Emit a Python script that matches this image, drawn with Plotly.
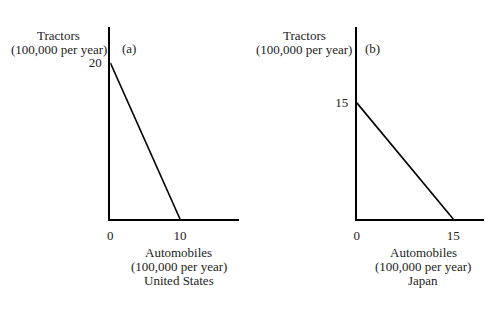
import plotly.graph_objects as go

W, H = 493, 312
# Panel (a) United States
us_autos = [0, 10]
us_tractors = [20, 0]
# Panel (b) Japan
jp_autos = [0, 15]
jp_tractors = [15, 0]

us_xticks = [0, 10]
us_yticks = [20]
jp_xticks = [0, 15]
jp_yticks = [15]

FONT = "Liberation Serif, Times New Roman, serif"
TXT = "#222"
FS = 13

fig = go.Figure()
fig.add_trace(go.Scatter(x=us_autos, y=us_tractors, mode="lines",
                         line=dict(color="black", width=1.6), xaxis="x", yaxis="y",
                         showlegend=False, hoverinfo="skip"))
fig.add_trace(go.Scatter(x=jp_autos, y=jp_tractors, mode="lines",
                         line=dict(color="black", width=1.6), xaxis="x2", yaxis="y2",
                         showlegend=False, hoverinfo="skip"))

def px(x):
    return x / W

def py(y):
    return 1 - y / H

ydom = [py(219), py(27)]
axis_common = dict(showline=True, linecolor="black", linewidth=2, showgrid=False,
                   zeroline=False, ticks="", tickfont=dict(family=FONT, size=FS, color=TXT),
                   fixedrange=True)

fig.update_layout(
    width=W, height=H, margin=dict(l=0, r=0, t=0, b=0),
    paper_bgcolor="white", plot_bgcolor="white",
    xaxis=dict(domain=[px(108), px(237)], range=[0, 18.4], anchor="y",
               tickvals=us_xticks, ticktext=[str(v) for v in us_xticks],
               ticklabelstandoff=3, **axis_common),
    yaxis=dict(domain=ydom, range=[0, 24.6], anchor="x",
               tickvals=us_yticks, ticktext=[str(v) for v in us_yticks],
               ticklabelstandoff=4, **axis_common),
    xaxis2=dict(domain=[px(356), px(484)], range=[0, 19.8], anchor="y2",
                tickvals=jp_xticks, ticktext=[str(v) for v in jp_xticks],
                ticklabelstandoff=3, **axis_common),
    yaxis2=dict(domain=ydom, range=[0, 24.8], anchor="x2",
                tickvals=jp_yticks, ticktext=[str(v) for v in jp_yticks],
                ticklabelstandoff=4, **axis_common),
)

def ann(text, x, y, xanchor="center"):
    fig.add_annotation(text=text, x=px(x), y=py(y), xref="paper", yref="paper",
                       xanchor=xanchor, yanchor="middle", showarrow=False,
                       align="center", font=dict(family=FONT, size=FS, color=TXT))

def block(lines, x, y0, step=14):
    for i, t in enumerate(lines):
        ann(t, x, y0 + i * step)

block(["Tractors", "(100,000 per year)"], 56, 35)
ann("(a)", 127, 48)
block(["Automobiles", "(100,000 per year)", "United States"], 177, 252)
block(["Tractors", "(100,000 per year)"], 303, 35)
ann("(b)", 372, 48)
block(["Automobiles", "(100,000 per year)", "Japan"], 423, 252)

fig.write_html("out.html")
